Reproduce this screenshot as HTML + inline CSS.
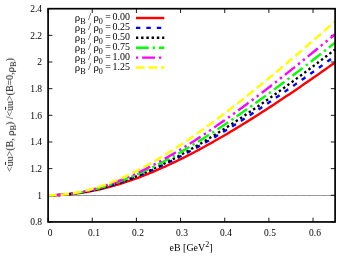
<!DOCTYPE html><html><head><meta charset="utf-8"><style>
html,body{margin:0;padding:0;background:#fff;}
body{width:353px;height:263px;position:relative;overflow:hidden;font-family:"Liberation Serif",serif;font-size:9.5px;color:#000;}
.t{position:absolute;white-space:nowrap;line-height:1;will-change:transform;}
.yl{text-align:right;width:40px;left:2px;}
.xl{text-align:center;width:40px;}
.lg{text-align:right;width:80px;left:50.3px;}
.ub{position:relative;}
.ub i{position:absolute;left:0.9px;width:3.3px;top:0.95px;height:0.45px;background:#333;}
sub{font-size:0.82em;vertical-align:baseline;position:relative;top:3.6px;line-height:0;}
.ylab sub{top:2.8px;}
.r{font-size:1.08em;line-height:0;position:relative;top:1px;}
sup{font-size:0.8em;vertical-align:baseline;position:relative;top:-0.5em;line-height:0;}

</style></head><body>
<svg width="353" height="263" viewBox="0 0 353 263" style="position:absolute;left:0;top:0">
<line x1="48.1" y1="195.5" x2="335.1" y2="195.5" stroke="#000" stroke-width="0.32"/>
<line x1="48.1" y1="195.5" x2="335.1" y2="195.5" stroke="#000" stroke-width="0.15" stroke-dasharray="6,1"/>
<line x1="48.10" y1="221.95" x2="48.10" y2="217.64999999999998" stroke="#000" stroke-width="0.9"/>
<line x1="48.10" y1="8.7" x2="48.10" y2="13.0" stroke="#000" stroke-width="0.9"/>
<line x1="92.25" y1="221.95" x2="92.25" y2="217.64999999999998" stroke="#000" stroke-width="0.9"/>
<line x1="92.25" y1="8.7" x2="92.25" y2="13.0" stroke="#000" stroke-width="0.9"/>
<line x1="136.41" y1="221.95" x2="136.41" y2="217.64999999999998" stroke="#000" stroke-width="0.9"/>
<line x1="136.41" y1="8.7" x2="136.41" y2="13.0" stroke="#000" stroke-width="0.9"/>
<line x1="180.56" y1="221.95" x2="180.56" y2="217.64999999999998" stroke="#000" stroke-width="0.9"/>
<line x1="180.56" y1="8.7" x2="180.56" y2="13.0" stroke="#000" stroke-width="0.9"/>
<line x1="224.72" y1="221.95" x2="224.72" y2="217.64999999999998" stroke="#000" stroke-width="0.9"/>
<line x1="224.72" y1="8.7" x2="224.72" y2="13.0" stroke="#000" stroke-width="0.9"/>
<line x1="268.87" y1="221.95" x2="268.87" y2="217.64999999999998" stroke="#000" stroke-width="0.9"/>
<line x1="268.87" y1="8.7" x2="268.87" y2="13.0" stroke="#000" stroke-width="0.9"/>
<line x1="313.02" y1="221.95" x2="313.02" y2="217.64999999999998" stroke="#000" stroke-width="0.9"/>
<line x1="313.02" y1="8.7" x2="313.02" y2="13.0" stroke="#000" stroke-width="0.9"/>
<line x1="48.1" y1="221.95" x2="52.4" y2="221.95" stroke="#000" stroke-width="0.9"/>
<line x1="335.1" y1="221.95" x2="330.8" y2="221.95" stroke="#000" stroke-width="0.9"/>
<line x1="48.1" y1="195.29" x2="52.4" y2="195.29" stroke="#000" stroke-width="0.9"/>
<line x1="335.1" y1="195.29" x2="330.8" y2="195.29" stroke="#000" stroke-width="0.9"/>
<line x1="48.1" y1="168.64" x2="52.4" y2="168.64" stroke="#000" stroke-width="0.9"/>
<line x1="335.1" y1="168.64" x2="330.8" y2="168.64" stroke="#000" stroke-width="0.9"/>
<line x1="48.1" y1="141.98" x2="52.4" y2="141.98" stroke="#000" stroke-width="0.9"/>
<line x1="335.1" y1="141.98" x2="330.8" y2="141.98" stroke="#000" stroke-width="0.9"/>
<line x1="48.1" y1="115.32" x2="52.4" y2="115.32" stroke="#000" stroke-width="0.9"/>
<line x1="335.1" y1="115.32" x2="330.8" y2="115.32" stroke="#000" stroke-width="0.9"/>
<line x1="48.1" y1="88.67" x2="52.4" y2="88.67" stroke="#000" stroke-width="0.9"/>
<line x1="335.1" y1="88.67" x2="330.8" y2="88.67" stroke="#000" stroke-width="0.9"/>
<line x1="48.1" y1="62.01" x2="52.4" y2="62.01" stroke="#000" stroke-width="0.9"/>
<line x1="335.1" y1="62.01" x2="330.8" y2="62.01" stroke="#000" stroke-width="0.9"/>
<line x1="48.1" y1="35.36" x2="52.4" y2="35.36" stroke="#000" stroke-width="0.9"/>
<line x1="335.1" y1="35.36" x2="330.8" y2="35.36" stroke="#000" stroke-width="0.9"/>
<line x1="48.1" y1="8.70" x2="52.4" y2="8.70" stroke="#000" stroke-width="0.9"/>
<line x1="335.1" y1="8.70" x2="330.8" y2="8.70" stroke="#000" stroke-width="0.9"/>
<polyline points="48.10,195.29 50.31,195.28 52.52,195.25 54.72,195.19 56.93,195.12 59.14,195.01 61.35,194.89 63.55,194.75 65.76,194.58 67.97,194.39 70.18,194.18 72.38,193.95 74.59,193.69 76.80,193.42 79.01,193.12 81.22,192.80 83.42,192.46 85.63,192.10 87.84,191.71 90.05,191.31 92.25,190.89 94.46,190.44 96.67,189.97 98.88,189.49 101.08,188.98 103.29,188.46 105.50,187.91 107.71,187.35 109.92,186.76 112.12,186.16 114.33,185.54 116.54,184.90 118.75,184.24 120.95,183.56 123.16,182.86 125.37,182.15 127.58,181.42 129.78,180.67 131.99,179.91 134.20,179.12 136.41,178.33 138.62,177.51 140.82,176.68 143.03,175.83 145.24,174.97 147.45,174.09 149.65,173.20 151.86,172.29 154.07,171.36 156.28,170.42 158.48,169.47 160.69,168.50 162.90,167.52 165.11,166.53 167.32,165.52 169.52,164.50 171.73,163.46 173.94,162.41 176.15,161.35 178.35,160.28 180.56,159.19 182.77,158.10 184.98,156.99 187.18,155.87 189.39,154.73 191.60,153.59 193.81,152.44 196.02,151.27 198.22,150.10 200.43,148.91 202.64,147.71 204.85,146.51 207.05,145.29 209.26,144.06 211.47,142.83 213.68,141.58 215.88,140.32 218.09,139.06 220.30,137.79 222.51,136.51 224.72,135.22 226.92,133.92 229.13,132.61 231.34,131.29 233.55,129.97 235.75,128.64 237.96,127.30 240.17,125.95 242.38,124.60 244.58,123.24 246.79,121.87 249.00,120.49 251.21,119.11 253.42,117.72 255.62,116.32 257.83,114.92 260.04,113.51 262.25,112.09 264.45,110.67 266.66,109.24 268.87,107.81 271.08,106.37 273.28,104.92 275.49,103.47 277.70,102.01 279.91,100.55 282.12,99.08 284.32,97.60 286.53,96.12 288.74,94.64 290.95,93.15 293.15,91.66 295.36,90.16 297.57,88.65 299.78,87.14 301.98,85.63 304.19,84.11 306.40,82.59 308.61,81.06 310.82,79.53 313.02,77.99 315.23,76.45 317.44,74.91 319.65,73.36 321.85,71.81 324.06,70.25 326.27,68.69 328.48,67.13 330.68,65.56 332.89,63.99 335.10,62.41" fill="none" stroke="#ff0000" stroke-width="2.4"/>
<polyline points="48.10,195.29 50.31,195.28 52.52,195.24 54.72,195.18 56.93,195.10 59.14,194.98 61.35,194.85 63.55,194.69 65.76,194.50 67.97,194.30 70.18,194.06 72.38,193.81 74.59,193.52 76.80,193.22 79.01,192.89 81.22,192.54 83.42,192.16 85.63,191.76 87.84,191.34 90.05,190.90 92.25,190.43 94.46,189.94 96.67,189.43 98.88,188.90 101.08,188.34 103.29,187.77 105.50,187.17 107.71,186.55 109.92,185.91 112.12,185.26 114.33,184.58 116.54,183.88 118.75,183.16 120.95,182.42 123.16,181.67 125.37,180.89 127.58,180.10 129.78,179.28 131.99,178.46 134.20,177.61 136.41,176.74 138.62,175.86 140.82,174.96 143.03,174.05 145.24,173.12 147.45,172.17 149.65,171.21 151.86,170.23 154.07,169.24 156.28,168.23 158.48,167.21 160.69,166.18 162.90,165.13 165.11,164.06 167.32,162.98 169.52,161.89 171.73,160.79 173.94,159.67 176.15,158.55 178.35,157.40 180.56,156.25 182.77,155.09 184.98,153.91 187.18,152.72 189.39,151.52 191.60,150.32 193.81,149.10 196.02,147.86 198.22,146.62 200.43,145.37 202.64,144.11 204.85,142.84 207.05,141.56 209.26,140.27 211.47,138.97 213.68,137.67 215.88,136.35 218.09,135.03 220.30,133.69 222.51,132.35 224.72,131.00 226.92,129.65 229.13,128.28 231.34,126.91 233.55,125.53 235.75,124.14 237.96,122.75 240.17,121.34 242.38,119.94 244.58,118.52 246.79,117.10 249.00,115.67 251.21,114.24 253.42,112.80 255.62,111.35 257.83,109.90 260.04,108.44 262.25,106.97 264.45,105.50 266.66,104.03 268.87,102.54 271.08,101.06 273.28,99.57 275.49,98.07 277.70,96.57 279.91,95.06 282.12,93.55 284.32,92.03 286.53,90.51 288.74,88.98 290.95,87.45 293.15,85.92 295.36,84.38 297.57,82.84 299.78,81.29 301.98,79.74 304.19,78.18 306.40,76.62 308.61,75.06 310.82,73.49 313.02,71.92 315.23,70.34 317.44,68.77 319.65,67.18 321.85,65.60 324.06,64.01 326.27,62.42 328.48,60.82 330.68,59.22 332.89,57.62 335.10,56.01" fill="none" stroke="#0000ff" stroke-width="2.4" stroke-dasharray="4.49,5.99" stroke-dashoffset="0.15"/>
<polyline points="48.10,195.29 50.31,195.28 52.52,195.24 54.72,195.18 56.93,195.09 59.14,194.98 61.35,194.84 63.55,194.68 65.76,194.49 67.97,194.27 70.18,194.04 72.38,193.77 74.59,193.49 76.80,193.18 79.01,192.84 81.22,192.48 83.42,192.10 85.63,191.69 87.84,191.26 90.05,190.80 92.25,190.32 94.46,189.82 96.67,189.30 98.88,188.75 101.08,188.18 103.29,187.59 105.50,186.98 107.71,186.35 109.92,185.69 112.12,185.02 114.33,184.32 116.54,183.60 118.75,182.86 120.95,182.10 123.16,181.32 125.37,180.53 127.58,179.71 129.78,178.87 131.99,178.02 134.20,177.14 136.41,176.25 138.62,175.34 140.82,174.41 143.03,173.47 145.24,172.51 147.45,171.53 149.65,170.53 151.86,169.52 154.07,168.50 156.28,167.45 158.48,166.39 160.69,165.32 162.90,164.23 165.11,163.13 167.32,162.01 169.52,160.88 171.73,159.73 173.94,158.57 176.15,157.40 178.35,156.21 180.56,155.01 182.77,153.80 184.98,152.57 187.18,151.34 189.39,150.09 191.60,148.83 193.81,147.55 196.02,146.27 198.22,144.97 200.43,143.67 202.64,142.35 204.85,141.02 207.05,139.68 209.26,138.34 211.47,136.98 213.68,135.61 215.88,134.23 218.09,132.84 220.30,131.45 222.51,130.04 224.72,128.63 226.92,127.20 229.13,125.77 231.34,124.33 233.55,122.88 235.75,121.43 237.96,119.96 240.17,118.49 242.38,117.01 244.58,115.52 246.79,114.03 249.00,112.53 251.21,111.02 253.42,109.50 255.62,107.98 257.83,106.45 260.04,104.91 262.25,103.37 264.45,101.82 266.66,100.26 268.87,98.70 271.08,97.13 273.28,95.56 275.49,93.98 277.70,92.39 279.91,90.80 282.12,89.21 284.32,87.61 286.53,86.00 288.74,84.39 290.95,82.77 293.15,81.15 295.36,79.52 297.57,77.89 299.78,76.25 301.98,74.61 304.19,72.97 306.40,71.32 308.61,69.66 310.82,68.00 313.02,66.34 315.23,64.67 317.44,63.00 319.65,61.32 321.85,59.64 324.06,57.96 326.27,56.27 328.48,54.58 330.68,52.89 332.89,51.19 335.10,49.48" fill="none" stroke="#000000" stroke-width="2.4" stroke-dasharray="2.40,2.85" stroke-dashoffset="0.15"/>
<polyline points="48.10,195.29 50.31,195.28 52.52,195.24 54.72,195.17 56.93,195.07 59.14,194.95 61.35,194.80 63.55,194.62 65.76,194.42 67.97,194.19 70.18,193.93 72.38,193.64 74.59,193.33 76.80,192.99 79.01,192.63 81.22,192.24 83.42,191.82 85.63,191.38 87.84,190.91 90.05,190.42 92.25,189.90 94.46,189.36 96.67,188.79 98.88,188.20 101.08,187.58 103.29,186.95 105.50,186.29 107.71,185.60 109.92,184.89 112.12,184.16 114.33,183.41 116.54,182.64 118.75,181.85 120.95,181.03 123.16,180.19 125.37,179.34 127.58,178.46 129.78,177.56 131.99,176.65 134.20,175.71 136.41,174.76 138.62,173.78 140.82,172.79 143.03,171.78 145.24,170.76 147.45,169.71 149.65,168.65 151.86,167.57 154.07,166.48 156.28,165.37 158.48,164.25 160.69,163.10 162.90,161.95 165.11,160.78 167.32,159.59 169.52,158.39 171.73,157.18 173.94,155.95 176.15,154.71 178.35,153.46 180.56,152.19 182.77,150.91 184.98,149.62 187.18,148.31 189.39,147.00 191.60,145.67 193.81,144.33 196.02,142.98 198.22,141.62 200.43,140.24 202.64,138.86 204.85,137.47 207.05,136.07 209.26,134.65 211.47,133.23 213.68,131.80 215.88,130.35 218.09,128.90 220.30,127.44 222.51,125.98 224.72,124.50 226.92,123.01 229.13,121.52 231.34,120.02 233.55,118.51 235.75,116.99 237.96,115.46 240.17,113.93 242.38,112.39 244.58,110.84 246.79,109.29 249.00,107.73 251.21,106.16 253.42,104.59 255.62,103.01 257.83,101.42 260.04,99.83 262.25,98.23 264.45,96.62 266.66,95.01 268.87,93.39 271.08,91.77 273.28,90.14 275.49,88.51 277.70,86.87 279.91,85.23 282.12,83.58 284.32,81.92 286.53,80.26 288.74,78.60 290.95,76.93 293.15,75.26 295.36,73.58 297.57,71.90 299.78,70.21 301.98,68.52 304.19,66.82 306.40,65.12 308.61,63.42 310.82,61.71 313.02,60.00 315.23,58.29 317.44,56.57 319.65,54.85 321.85,53.12 324.06,51.39 326.27,49.65 328.48,47.92 330.68,46.18 332.89,44.43 335.10,42.69" fill="none" stroke="#00ff00" stroke-width="2.4" stroke-dasharray="12.88,3.89,2.40,3.89" stroke-dashoffset="0.15"/>
<polyline points="48.10,195.29 50.31,195.28 52.52,195.23 54.72,195.16 56.93,195.06 59.14,194.93 61.35,194.77 63.55,194.58 65.76,194.36 67.97,194.11 70.18,193.83 72.38,193.53 74.59,193.19 76.80,192.83 79.01,192.44 81.22,192.02 83.42,191.58 85.63,191.11 87.84,190.61 90.05,190.08 92.25,189.53 94.46,188.95 96.67,188.34 98.88,187.71 101.08,187.06 103.29,186.38 105.50,185.67 107.71,184.94 109.92,184.19 112.12,183.41 114.33,182.61 116.54,181.79 118.75,180.94 120.95,180.07 123.16,179.18 125.37,178.27 127.58,177.34 129.78,176.38 131.99,175.41 134.20,174.41 136.41,173.40 138.62,172.36 140.82,171.31 143.03,170.24 145.24,169.15 147.45,168.04 149.65,166.91 151.86,165.77 154.07,164.60 156.28,163.43 158.48,162.23 160.69,161.02 162.90,159.80 165.11,158.55 167.32,157.30 169.52,156.03 171.73,154.74 173.94,153.44 176.15,152.13 178.35,150.80 180.56,149.46 182.77,148.10 184.98,146.73 187.18,145.35 189.39,143.96 191.60,142.56 193.81,141.14 196.02,139.71 198.22,138.27 200.43,136.82 202.64,135.36 204.85,133.89 207.05,132.41 209.26,130.91 211.47,129.41 213.68,127.90 215.88,126.38 218.09,124.84 220.30,123.30 222.51,121.75 224.72,120.20 226.92,118.63 229.13,117.05 231.34,115.47 233.55,113.88 235.75,112.28 237.96,110.67 240.17,109.05 242.38,107.43 244.58,105.80 246.79,104.16 249.00,102.52 251.21,100.87 253.42,99.21 255.62,97.55 257.83,95.88 260.04,94.20 262.25,92.52 264.45,90.83 266.66,89.13 268.87,87.43 271.08,85.72 273.28,84.01 275.49,82.29 277.70,80.57 279.91,78.84 282.12,77.10 284.32,75.36 286.53,73.62 288.74,71.87 290.95,70.12 293.15,68.36 295.36,66.60 297.57,64.83 299.78,63.06 301.98,61.28 304.19,59.50 306.40,57.71 308.61,55.92 310.82,54.13 313.02,52.33 315.23,50.53 317.44,48.73 319.65,46.92 321.85,45.11 324.06,43.29 326.27,41.47 328.48,39.65 330.68,37.82 332.89,35.99 335.10,34.16" fill="none" stroke="#ff00ff" stroke-width="2.4" stroke-dasharray="2.40,3.89,12.88,3.89,2.40,3.89" stroke-dashoffset="0.15"/>
<polyline points="48.10,195.29 50.31,195.28 52.52,195.23 54.72,195.15 56.93,195.03 59.14,194.88 61.35,194.71 63.55,194.49 65.76,194.25 67.97,193.97 70.18,193.66 72.38,193.33 74.59,192.95 76.80,192.55 79.01,192.12 81.22,191.65 83.42,191.16 85.63,190.63 87.84,190.08 90.05,189.50 92.25,188.88 94.46,188.24 96.67,187.57 98.88,186.87 101.08,186.14 103.29,185.39 105.50,184.61 107.71,183.80 109.92,182.97 112.12,182.11 114.33,181.23 116.54,180.32 118.75,179.38 120.95,178.43 123.16,177.44 125.37,176.44 127.58,175.41 129.78,174.36 131.99,173.29 134.20,172.20 136.41,171.08 138.62,169.95 140.82,168.79 143.03,167.61 145.24,166.42 147.45,165.21 149.65,163.97 151.86,162.72 154.07,161.45 156.28,160.16 158.48,158.86 160.69,157.54 162.90,156.20 165.11,154.85 167.32,153.48 169.52,152.09 171.73,150.69 173.94,149.28 176.15,147.85 178.35,146.41 180.56,144.95 182.77,143.48 184.98,141.99 187.18,140.50 189.39,138.99 191.60,137.47 193.81,135.93 196.02,134.38 198.22,132.83 200.43,131.26 202.64,129.68 204.85,128.09 207.05,126.49 209.26,124.87 211.47,123.25 213.68,121.62 215.88,119.98 218.09,118.33 220.30,116.67 222.51,115.00 224.72,113.32 226.92,111.63 229.13,109.94 231.34,108.23 233.55,106.52 235.75,104.80 237.96,103.07 240.17,101.34 242.38,99.60 244.58,97.85 246.79,96.09 249.00,94.33 251.21,92.56 253.42,90.78 255.62,88.99 257.83,87.20 260.04,85.41 262.25,83.60 264.45,81.80 266.66,79.98 268.87,78.16 271.08,76.33 273.28,74.50 275.49,72.67 277.70,70.82 279.91,68.98 282.12,67.12 284.32,65.27 286.53,63.40 288.74,61.54 290.95,59.66 293.15,57.79 295.36,55.91 297.57,54.02 299.78,52.13 301.98,50.24 304.19,48.34 306.40,46.43 308.61,44.53 310.82,42.62 313.02,40.70 315.23,38.78 317.44,36.86 319.65,34.94 321.85,33.01 324.06,31.08 326.27,29.14 328.48,27.20 330.68,25.26 332.89,23.31 335.10,21.36" fill="none" stroke="#ffff00" stroke-width="2.4" stroke-dasharray="8.69,3.89" stroke-dashoffset="0.15"/>
<line x1="136.0" y1="18.00" x2="164.3" y2="18.00" stroke="#ff0000" stroke-width="2.4"/>
<line x1="136.0" y1="27.90" x2="164.3" y2="27.90" stroke="#0000ff" stroke-width="2.4" stroke-dasharray="4.49,5.99" stroke-dashoffset="0.15"/>
<line x1="136.0" y1="37.80" x2="164.3" y2="37.80" stroke="#000000" stroke-width="2.4" stroke-dasharray="2.40,2.85" stroke-dashoffset="0.15"/>
<line x1="136.0" y1="47.70" x2="164.3" y2="47.70" stroke="#00ff00" stroke-width="2.4" stroke-dasharray="12.88,3.89,2.40,3.89" stroke-dashoffset="0.15"/>
<line x1="136.0" y1="57.60" x2="164.3" y2="57.60" stroke="#ff00ff" stroke-width="2.4" stroke-dasharray="2.40,3.89,12.88,3.89,2.40,3.89" stroke-dashoffset="0.15"/>
<line x1="136.0" y1="67.50" x2="164.3" y2="67.50" stroke="#ffff00" stroke-width="2.4" stroke-dasharray="8.69,3.89" stroke-dashoffset="0.15"/>
<rect x="48.1" y="8.7" width="287.0" height="213.25" fill="none" stroke="#000" stroke-width="1.7"/>
</svg>
<div class="t yl" style="top:218.33px">0.8</div>
<div class="t yl" style="top:191.67px">1</div>
<div class="t yl" style="top:165.02px">1.2</div>
<div class="t yl" style="top:138.36px">1.4</div>
<div class="t yl" style="top:111.70px">1.6</div>
<div class="t yl" style="top:85.05px">1.8</div>
<div class="t yl" style="top:58.39px">2</div>
<div class="t yl" style="top:31.74px">2.2</div>
<div class="t yl" style="top:5.08px">2.4</div>
<div class="t xl" style="left:29.60px;top:228.60px">0</div>
<div class="t xl" style="left:73.75px;top:228.60px">0.1</div>
<div class="t xl" style="left:117.91px;top:228.60px">0.2</div>
<div class="t xl" style="left:162.06px;top:228.60px">0.3</div>
<div class="t xl" style="left:206.22px;top:228.60px">0.4</div>
<div class="t xl" style="left:250.37px;top:228.60px">0.5</div>
<div class="t xl" style="left:294.52px;top:228.60px">0.6</div>
<div class="t lg" style="font-size:9.95px;top:12.43px"><span class="r">&rho;</span><sub>B</sub> / <span class="r">&rho;</span><sub>0</sub> =<span style="margin-left:-0.8px"> 0.00</span></div>
<div class="t lg" style="font-size:9.95px;top:22.33px"><span class="r">&rho;</span><sub>B</sub> / <span class="r">&rho;</span><sub>0</sub> =<span style="margin-left:-0.8px"> 0.25</span></div>
<div class="t lg" style="font-size:9.95px;top:32.23px"><span class="r">&rho;</span><sub>B</sub> / <span class="r">&rho;</span><sub>0</sub> =<span style="margin-left:-0.8px"> 0.50</span></div>
<div class="t lg" style="font-size:9.95px;top:42.13px"><span class="r">&rho;</span><sub>B</sub> / <span class="r">&rho;</span><sub>0</sub> =<span style="margin-left:-0.8px"> 0.75</span></div>
<div class="t lg" style="font-size:9.95px;top:52.03px"><span class="r">&rho;</span><sub>B</sub> / <span class="r">&rho;</span><sub>0</sub> =<span style="margin-left:-0.8px"> 1.00</span></div>
<div class="t lg" style="font-size:9.95px;top:61.93px"><span class="r">&rho;</span><sub>B</sub> / <span class="r">&rho;</span><sub>0</sub> =<span style="margin-left:-0.8px"> 1.25</span></div>
<div class="t" style="font-size:9.95px;left:141.2px;width:100px;text-align:center;top:241.7px;transform:translateY(0.6px)">eB [GeV<sup>2</sup>]</div>
<div class="t" style="font-size:9.95px;left:9.6px;top:115px;width:0;height:0;"><div class="ylab" style="position:absolute;white-space:nowrap;transform:translate(-50%,-50%) rotate(-90deg);">&lt;<span class="ub">u<i></i></span>u&gt;(B, <span class="r">&rho;</span><sub>B</sub>) /&lt;<span class="ub">u<i></i></span>u&gt;(B=0,<span class="r">&rho;</span><sub>B</sub>)</div></div>
</body></html>
